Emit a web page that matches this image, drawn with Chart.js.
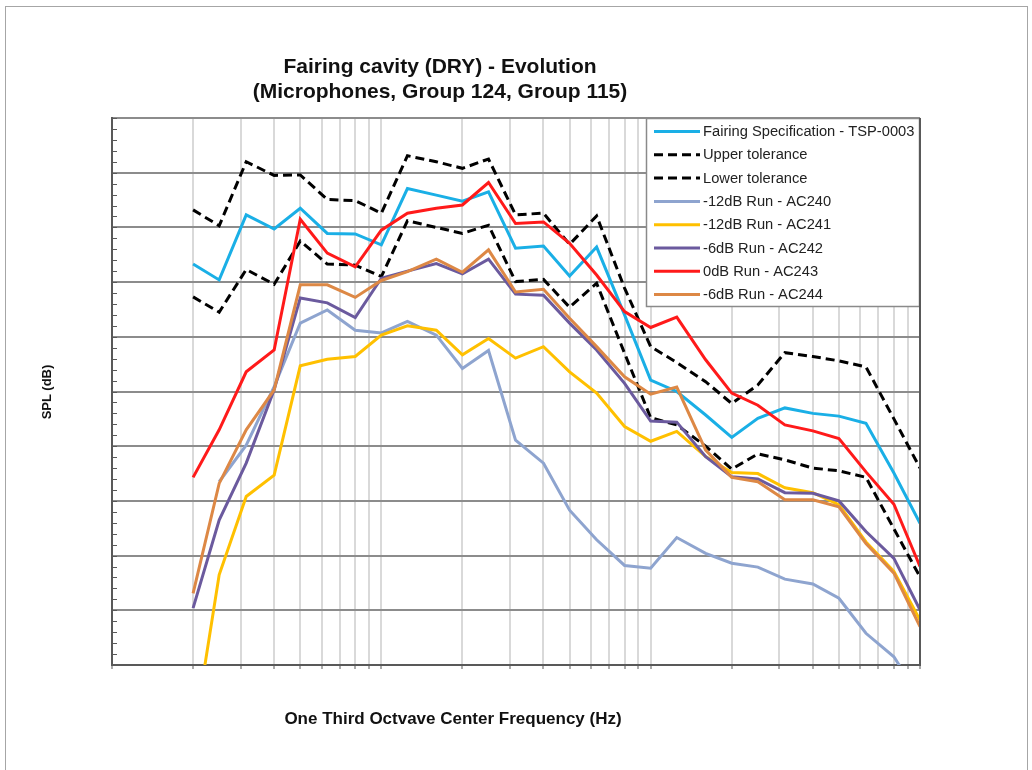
<!DOCTYPE html>
<html>
<head>
<meta charset="utf-8">
<script src="https://cdn.jsdelivr.net/npm/chart.js@4.4.0/dist/chart.umd.min.js"></script>
<style>
    html, body { margin: 0; padding: 0; background: #fff; }
    body { width: 1032px; height: 770px; position: relative; overflow: hidden; font-family: "Liberation Sans", Arial, sans-serif; }
    #frame { position: absolute; left: 5px; top: 6px; width: 1021px; height: 800px; border: 1px solid #a6a6a6; }
    #chart { position: absolute; left: 0; top: 0; }
    .label { position: absolute; font-weight: bold; color: #111; text-align: center; white-space: nowrap; }
    #title { left: 90px; top: 53px; width: 700px; font-size: 21px; line-height: 25px; }
    #ytitle { left: -13px; top: 382px; width: 120px; font-size: 13px; line-height: 20px; transform: rotate(-90deg); }
    #xtitle { left: 203px; top: 708px; width: 500px; font-size: 17px; line-height: 22px; }
</style>
</head>
<body>
<div id="frame"></div>
<canvas id="chart" width="1032" height="770"></canvas>
<div class="label" id="title">Fairing cavity (DRY) - Evolution<br>(Microphones, Group 124, Group 115)</div>
<div class="label" id="ytitle">SPL (dB)</div>
<div class="label" id="xtitle">One Third Octvave Center Frequency (Hz)</div>
<script>
// one third octave centre frequencies (Hz)
const freqs = [20, 25, 31.5, 40, 50, 63, 80, 100, 125, 160, 200, 250, 315, 400, 500, 630,
    800, 1000, 1250, 1600, 2000, 2500, 3150, 4000, 5000, 6300, 8000, 10000];

// SPL values (dB)
const specTSP0003 = [123.3, 120.4, 132.3, 129.7, 133.5, 128.9, 128.8, 126.8, 137.1, 135.9, 134.8, 136.5, 126.2, 126.6,
    121.1, 126.4, 114, 102.1, 100, 95.7, 91.6, 95.1, 97, 96, 95.5, 94.2, 85.1, 75.9];
const upperTol = [133.2, 130.3, 142, 139.5, 139.6, 135.1, 134.9, 132.6, 143.1, 142, 140.8, 142.5, 132.3, 132.6,
    126.9, 132.1, 118.9, 108.2, 105.3, 101.8, 97.8, 101.2, 107.1, 106.4, 105.6, 104.5, 95, 86];
const lowerTol = [117.3, 114.5, 122.3, 119.6, 127.5, 123.3, 123.1, 121, 131.2, 130, 128.9, 130.4, 120.1, 120.5,
    115.4, 119.8, 107, 95.2, 93.9, 90, 85.8, 88.6, 87.5, 86, 85.5, 84.3, 74.9, 66.1];
const runAC240 = [null, 83.5, 90.2, 100.9, 112.5, 114.9, 111.2, 110.7, 112.8, 110.3, 104.2, 107.5, 91.1, 86.9,
    78.3, 72.9, 68.2, 67.7, 73.3, 70.4, 68.6, 67.9, 65.7, 64.8, 62.2, 55.8, 51.5, 44];
const runAC241 = [36.3, 66.5, 80.8, 84.7, 104.7, 105.9, 106.4, 110.3, 112, 111.2, 106.7, 109.7, 106.1, 108.2,
    103.6, 99.7, 93.6, 90.9, 92.7, 88.1, 85.2, 85, 82.4, 81.5, 79.3, 72.5, 67.1, 58.2];
const runAC242 = [60.4, 76.5, 86.9, 100.3, 117.1, 116.2, 113.5, 120.7, 122, 123.4, 121.5, 124.2, 117.8, 117.6,
    112.5, 107.6, 101.5, 94.6, 94.4, 88.1, 84.4, 84, 81.5, 81.4, 80, 74.4, 69.5, 60.1];
const runAC243 = [84.3, 93, 103.6, 107.6, 131.5, 125.3, 122.8, 129.5, 132.6, 133.5, 134.1, 138.2, 130.7, 131,
    127.1, 121.3, 114.6, 111.7, 113.6, 105.8, 99.7, 97.5, 93.9, 92.8, 91.4, 85.3, 79.4, 68];
const runAC244 = [63.1, 83.2, 93, 100.3, 119.5, 119.5, 117.2, 120.3, 121.9, 124.2, 121.8, 125.9, 118.2, 118.7,
    113.4, 108.2, 102.7, 99.5, 100.8, 89.3, 84.3, 83.5, 80.2, 80.2, 78.9, 72.2, 66.8, 57];

// vertical grid lines: 1..9 x each decade, 10 Hz to 10 kHz
const decades = [10, 100, 1000];
const xGridValues = [];
decades.forEach(d => { for (let k = 1; k <= 9; k++) xGridValues.push(k * d); });
xGridValues.push(10000);

const series = [
    { label: 'Fairing Specification - TSP-0003', values: specTSP0003, color: '#1AAFE6' },
    { label: 'Upper tolerance', values: upperTol, color: '#000000', dash: [9, 5] },
    { label: 'Lower tolerance', values: lowerTol, color: '#000000', dash: [9, 5] },
    { label: '-12dB Run - AC240', values: runAC240, color: '#8EA4CF' },
    { label: '-12dB Run - AC241', values: runAC241, color: '#FFC000' },
    { label: '-6dB Run - AC242', values: runAC242, color: '#6B5A9E' },
    { label: '0dB Run - AC243', values: runAC243, color: '#FF1A1A' },
    { label: '-6dB Run - AC244', values: runAC244, color: '#DD8845' }
];

// small y tick marks pointing into the plot
const innerTicks = {
    id: 'innerTicks',
    afterDraw(chart) {
        const { ctx, chartArea } = chart;
        const yScale = chart.scales.y;
        ctx.save();
        ctx.strokeStyle = '#595959';
        ctx.lineWidth = 1;
        ctx.beginPath();
        yScale.ticks.forEach(t => {
            const y = Math.round(yScale.getPixelForValue(t.value)) + 0.5;
            ctx.moveTo(chartArea.left, y);
            ctx.lineTo(chartArea.left + 5, y);
        });
        ctx.stroke();
        ctx.restore();
    }
};

// legend box inside the plot, top right, plus the right frame line
const insideLegend = {
    id: 'insideLegend',
    afterDraw(chart) {
        const { ctx, chartArea } = chart;
        const w = 274, h = 189, rowH = 23.3;
        const x0 = chartArea.right - w, y0 = chartArea.top;
        ctx.save();
        ctx.fillStyle = '#ffffff';
        ctx.fillRect(x0, y0, w, h);
        ctx.strokeStyle = '#8a8a8a';
        ctx.lineWidth = 1.5;
        ctx.strokeRect(x0 + 0.5, y0 + 0.5, w - 1, h - 1);
        ctx.font = '14.7px "Liberation Sans", Arial, sans-serif';
        ctx.textBaseline = 'middle';
        chart.data.datasets.forEach((ds, i) => {
            const y = y0 + 13.5 + i * rowH;
            ctx.beginPath();
            ctx.setLineDash(ds.borderDash || []);
            ctx.strokeStyle = ds.borderColor;
            ctx.lineWidth = 3;
            ctx.moveTo(x0 + 8, y);
            ctx.lineTo(x0 + 54, y);
            ctx.stroke();
            ctx.setLineDash([]);
            ctx.fillStyle = '#222222';
            ctx.fillText(ds.label, x0 + 57, y + 0.5);
        });
        // right border of the plot
        ctx.strokeStyle = '#595959';
        ctx.lineWidth = 2;
        ctx.beginPath();
        ctx.moveTo(chartArea.right, chartArea.top);
        ctx.lineTo(chartArea.right, chartArea.bottom);
        ctx.stroke();
        ctx.restore();
    }
};

new Chart(document.getElementById('chart'), {
    type: 'line',
    data: {
        datasets: series.map((s, i) => ({
            label: s.label,
            data: freqs.map((f, j) => ({ x: f, y: s.values[j] })),
            borderColor: s.color,
            backgroundColor: s.color,
            borderWidth: 3,
            borderDash: s.dash || [],
            pointRadius: 0,
            tension: 0,
            fill: false,
            spanGaps: false,
            order: series.length - i
        }))
    },
    options: {
        responsive: false,
        animation: false,
        layout: { padding: { left: 112, right: 112, top: 118, bottom: 101 } },
        plugins: {
            legend: { display: false },
            tooltip: { enabled: false }
        },
        scales: {
            x: {
                type: 'logarithmic',
                min: 10,
                max: 10000,
                afterBuildTicks: scale => {
                    scale.ticks = xGridValues.map(v => ({ value: v }));
                },
                ticks: { display: false },
                grid: {
                    color: '#d9d9d9',
                    lineWidth: 2,
                    tickColor: '#595959',
                    tickWidth: 1,
                    tickLength: 4
                },
                border: { color: '#595959', width: 2 }
            },
            y: {
                min: 50,
                max: 150,
                ticks: { display: false, stepSize: 2 },
                grid: {
                    color: c => (c.tick && c.tick.value % 10 === 0) ? '#8c8c8c' : 'rgba(0,0,0,0)',
                    lineWidth: 2,
                    drawTicks: false
                },
                border: { color: '#595959', width: 2 }
            }
        }
    },
    plugins: [innerTicks, insideLegend]
});
</script>
</body>
</html>
